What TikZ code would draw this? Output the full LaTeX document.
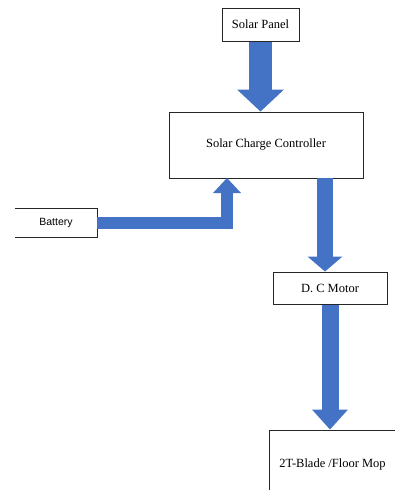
\documentclass[tikz,border=0pt]{standalone}
\usepackage{fontspec}
\setmainfont{Liberation Serif}
\newfontfamily\labelsans{Liberation Sans}
\usepackage{xcolor}
\definecolor{FlowBlue}{HTML}{4472C4}
\definecolor{BoxLine}{HTML}{262626}
\usepackage{tikz}
\usetikzlibrary{arrows.meta,positioning,calc}
\tikzset{
  blk/.style={draw=BoxLine, line width=1pt, fill=white, inner sep=0pt, align=center,
              font=\fontsize{12.5}{14}\selectfont},
  blkopen/.style={inner sep=0pt, align=center, font=\labelsans\fontsize{10.5}{12}\selectfont},
  flowarr/.style n args={3}{draw=FlowBlue, line width=#1, line join=miter,
              -{Triangle[length=#2, width=#3, line width=0pt]}}
}

\begin{document}
\begin{tikzpicture}[x=1pt, y=-1pt]
\useasboundingbox (0,0) rectangle (395,490);
\clip (0,0) rectangle (395,490);
\node[blk, minimum width=77pt, minimum height=33pt] (sp) at (260.5,24.5) {Solar Panel};
\node[blk, minimum width=194pt, minimum height=66pt] (scc) at (266,145) {Solar Charge Controller};
\node[blkopen, minimum width=82pt, minimum height=28pt] (bat) at (56,223) {Battery};
\draw[BoxLine, line width=1pt] (bat.north west) -- (bat.north east) -- (bat.south east) -- (bat.south west);
\node[blk, minimum width=114pt, minimum height=32pt] (mot) at (330,288) {D. C Motor};
\node[blk, minimum width=127pt, minimum height=68pt] (mop) at (332.5,464) {2T-Blade /Floor Mop};
\coordinate (batin) at (227,178);
\coordinate (sccout) at (325,178);
\draw[flowarr={23pt}{22pt}{47pt}] (sp.south) -- (sp.south |- scc.north);
\draw[flowarr={12pt}{15pt}{28pt}] (bat.east) -| (batin);
\draw[flowarr={16pt}{15pt}{35pt}] (sccout) -- (sccout |- mot.north);
\draw[flowarr={17pt}{20pt}{36pt}] (mot.south) -- (mot.south |- mop.north);
\end{tikzpicture}
\end{document}
